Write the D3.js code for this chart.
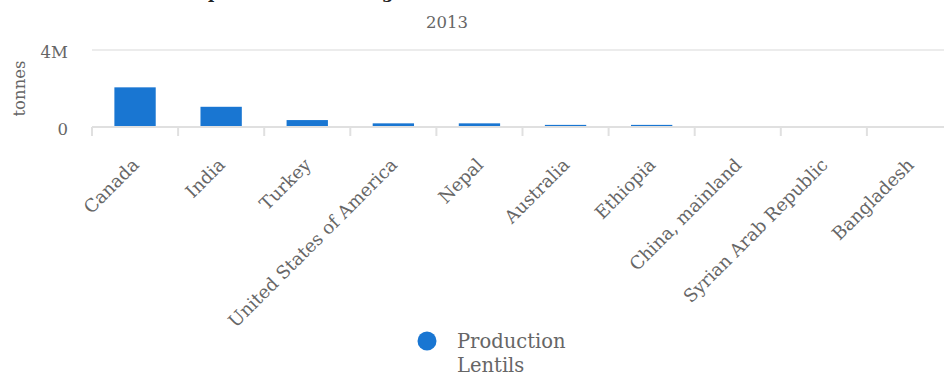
<!DOCTYPE html>
<html>
<head>
<meta charset="utf-8">
<script src="https://cdn.jsdelivr.net/npm/d3@7"></script>
<style>
  body { margin: 0; background: #fff; }
  svg { display: block; font-family: 'DejaVu Serif', serif; }
  .axis text { fill: #666; font-family: 'DejaVu Serif', serif; }
</style>
</head>
<body>
<div id="main"></div>
<script>
// values (tonnes, 2013)
const countries = ['Canada', 'India', 'Turkey', 'United States of America', 'Nepal',
  'Australia', 'Ethiopia', 'China, mainland', 'Syrian Arab Republic', 'Bangladesh']
const production = [2060000, 1050000, 360000, 190000, 190000, 110000, 110000, 8000, 6000, 5000]
const yTicks = [0, 4000000]
const yTickLabels = ['0', '4M']

const width = 944
const height = 374
const margin = { top: 50, bottom: 247, left: 92, right: -9 }
const barColor = '#1976d2'

const svg = d3.select('#main').append('svg')
  .attr('width', width)
  .attr('height', height)

const xScale = d3.scaleBand()
  .domain(countries)
  .range([margin.left, width - margin.right])
  .padding(0)
const yScale = d3.scaleLinear()
  .domain([0, 4000000])
  .range([height - margin.bottom, margin.top])

// title (cut off at the top, only descenders show) and subtitle
const title = svg.append('text')
  .attr('x', 0)
  .attr('y', -2)
  .attr('font-size', 19)
  .attr('font-weight', 'bold')
  .attr('fill', '#222')
  .text('Lentils production ranking')
// line the descenders up with what shows in the picture
const tNode = title.node()
const pIdx = tNode.textContent.indexOf('p')
const gIdx = tNode.textContent.indexOf('g')
const span = tNode.getStartPositionOfChar(gIdx).x - tNode.getStartPositionOfChar(pIdx).x
if (span > 0) title.attr('font-size', 19 * 174 / span)
title.attr('x', 210 - tNode.getStartPositionOfChar(pIdx).x - 2)

svg.append('text')
  .attr('x', 447)
  .attr('y', 28)
  .attr('text-anchor', 'middle')
  .attr('font-size', 16.5)
  .attr('fill', '#666')
  .text('2013')

// grid lines
svg.append('g')
  .selectAll('line')
  .data(yTicks.filter(d => d > 0))
  .enter()
  .append('line')
  .attr('x1', margin.left)
  .attr('x2', width)
  .attr('y1', d => yScale(d))
  .attr('y2', d => yScale(d))
  .attr('stroke', '#e6e6e6')
  .attr('stroke-width', 1.5)

// y axis labels
const yAxis = d3.axisLeft(yScale)
  .tickValues(yTicks)
  .tickFormat((d, i) => yTickLabels[i])
  .tickSize(0)
  .tickPadding(24)
const gy = svg.append('g')
  .attr('class', 'axis')
  .attr('transform', `translate(${margin.left}, 0)`)
  .call(yAxis)
gy.select('.domain').remove()
gy.selectAll('text').attr('dy', '0.45em').attr('font-size', 16.5)

svg.append('text')
  .attr('transform', `translate(25, ${yScale(2000000)}) rotate(-90)`)
  .attr('text-anchor', 'middle')
  .attr('font-size', 16.5)
  .attr('fill', '#666')
  .text('tonnes')

// bars
const barW = xScale.bandwidth() * 0.48
svg.append('g')
  .selectAll('.bar')
  .data(countries)
  .enter()
  .append('rect')
  .attr('class', 'bar')
  .attr('x', d => xScale(d) + (xScale.bandwidth() - barW) / 2)
  .attr('y', (d, i) => yScale(production[i]))
  .attr('width', barW)
  .attr('height', (d, i) => yScale(0) - yScale(production[i]))
  .attr('fill', barColor)

// x axis
const xAxis = d3.axisBottom(xScale).tickSize(0).tickPadding(0)
const gx = svg.append('g')
  .attr('class', 'axis')
  .attr('transform', `translate(0, ${yScale(0)})`)
  .call(xAxis)
gx.select('.domain')
  .attr('stroke', '#e0e0e0')
  .attr('stroke-width', 2)
  .attr('d', `M${margin.left},0H${width + 20}`)
gx.selectAll('.tick line').remove()
gx.selectAll('.tick text')
  .attr('text-anchor', 'end')
  .attr('font-size', 18)
  .attr('dy', 0)
  .attr('transform', 'translate(5, 39) rotate(-45)')

// boundary ticks between categories
svg.append('g')
  .selectAll('line')
  .data(countries)
  .enter()
  .append('line')
  .attr('x1', d => xScale(d))
  .attr('x2', d => xScale(d))
  .attr('y1', yScale(0))
  .attr('y2', yScale(0) + 9)
  .attr('stroke', '#e0e0e0')
  .attr('stroke-width', 2)

// legend
const legend = svg.append('g').attr('transform', 'translate(427, 341)')
legend.append('circle').attr('r', 9.5).attr('fill', barColor)
legend.append('text')
  .attr('x', 30).attr('y', 7)
  .attr('font-size', 19.5).attr('fill', '#666')
  .selectAll('tspan')
  .data(['Production', 'Lentils'])
  .enter()
  .append('tspan')
  .attr('x', 30)
  .attr('dy', (d, i) => i === 0 ? 0 : 24)
  .text(d => d)
</script>
</body>
</html>
